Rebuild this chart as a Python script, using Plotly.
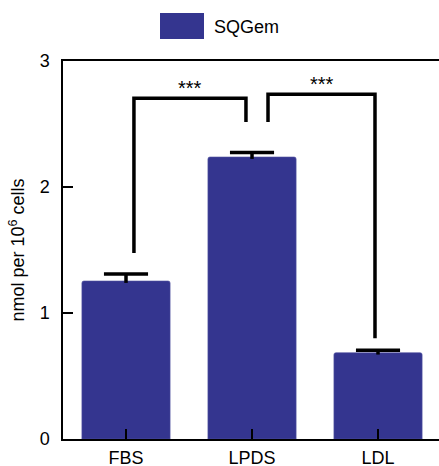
import plotly.graph_objects as go

categories = ["FBS", "LPDS", "LDL"]
values = [1.254, 2.238, 0.685]
errors = [0.055, 0.035, 0.02]
series_name = "SQGem"
y_ticks = [0, 1, 2, 3]

# significance brackets: (x_left, x_right, y_top, y_left_end, y_right_end, label)
brackets = [
    (0.063, 0.952, 2.704, 1.476, 2.516, "***"),
    (1.127, 1.976, 2.736, 2.516, 0.80, "***"),
]

bar_color = "rgb(52,53,143)"
font_family = "Liberation Sans, Arial, sans-serif"
cap_half = 0.175
stem_below = 0.015

xpos = list(range(len(categories)))

fig = go.Figure()
fig.add_trace(go.Bar(
    x=xpos, y=values, name=series_name,
    marker=dict(color=bar_color, line=dict(width=0.6, color="rgb(80,82,160)")),
    width=0.7, showlegend=False,
))

# error bars: upper cap only, short stem into the bar
ex, ey = [], []
for i, (v, e) in enumerate(zip(values, errors)):
    ex += [i, i, None, i - cap_half, i + cap_half, None]
    ey += [v - stem_below, v + e, None, v + e, v + e, None]
fig.add_trace(go.Scatter(x=ex, y=ey, mode="lines", line=dict(color="black", width=3.5),
                         showlegend=False, hoverinfo="skip"))

shapes = []
annotations = []
for xl, xr, yt, yl, yr, lab in brackets:
    shapes.append(dict(type="path", xref="x", yref="y",
                       path=f"M {xl},{yl} L {xl},{yt} L {xr},{yt} L {xr},{yr}",
                       line=dict(color="black", width=3.5)))
    annotations.append(dict(x=(xl + xr) / 2, y=yt, xref="x", yref="y",
                            text=lab, showarrow=False, yanchor="bottom", yshift=-3,
                            font=dict(size=20, color="black", family=font_family)))

# legend drawn manually (large swatch)
shapes.append(dict(type="rect", xref="paper", yref="paper",
                   x0=(160 - 63) / 376, x1=(204 - 63) / 376,
                   y0=(439 - 39) / 378, y1=(439 - 13) / 378,
                   fillcolor=bar_color, line=dict(width=0), layer="above"))
annotations.append(dict(x=(212 - 63) / 376, y=(439 - 27) / 378, xref="paper", yref="paper",
                        text=series_name, showarrow=False, xanchor="left", yanchor="middle",
                        font=dict(size=18, color="black", family=font_family)))

fig.update_layout(
    width=439, height=466,
    margin=dict(l=63, r=0, t=61, b=27, autoexpand=False),
    paper_bgcolor="white", plot_bgcolor="white",
    font=dict(family=font_family, color="black", size=18),
    shapes=shapes, annotations=annotations,
    barcornerradius=2,
)
fig.update_xaxes(
    range=[-0.5, 2.484], tickvals=xpos, ticktext=categories,
    showline=True, linecolor="black", linewidth=1.5, mirror=True,
    ticks="inside", ticklen=10, tickwidth=1.5, tickcolor="black",
    showgrid=False, zeroline=False, tickfont=dict(size=18), ticklabelstandoff=2,
)
fig.update_yaxes(
    range=[0, 3], tickvals=y_ticks, showline=True, linecolor="black", linewidth=1.5,
    ticks="inside", ticklen=10, tickwidth=1.5, tickcolor="black",
    showgrid=False, zeroline=False, tickfont=dict(size=18), ticklabelstandoff=8,
    title=dict(text="nmol per 10<sup>6</sup> cells", font=dict(size=18), standoff=10),
)

fig.write_html("out.html", post_script="document.body.style.margin='0px';",
               config={"displayModeBar": False})
